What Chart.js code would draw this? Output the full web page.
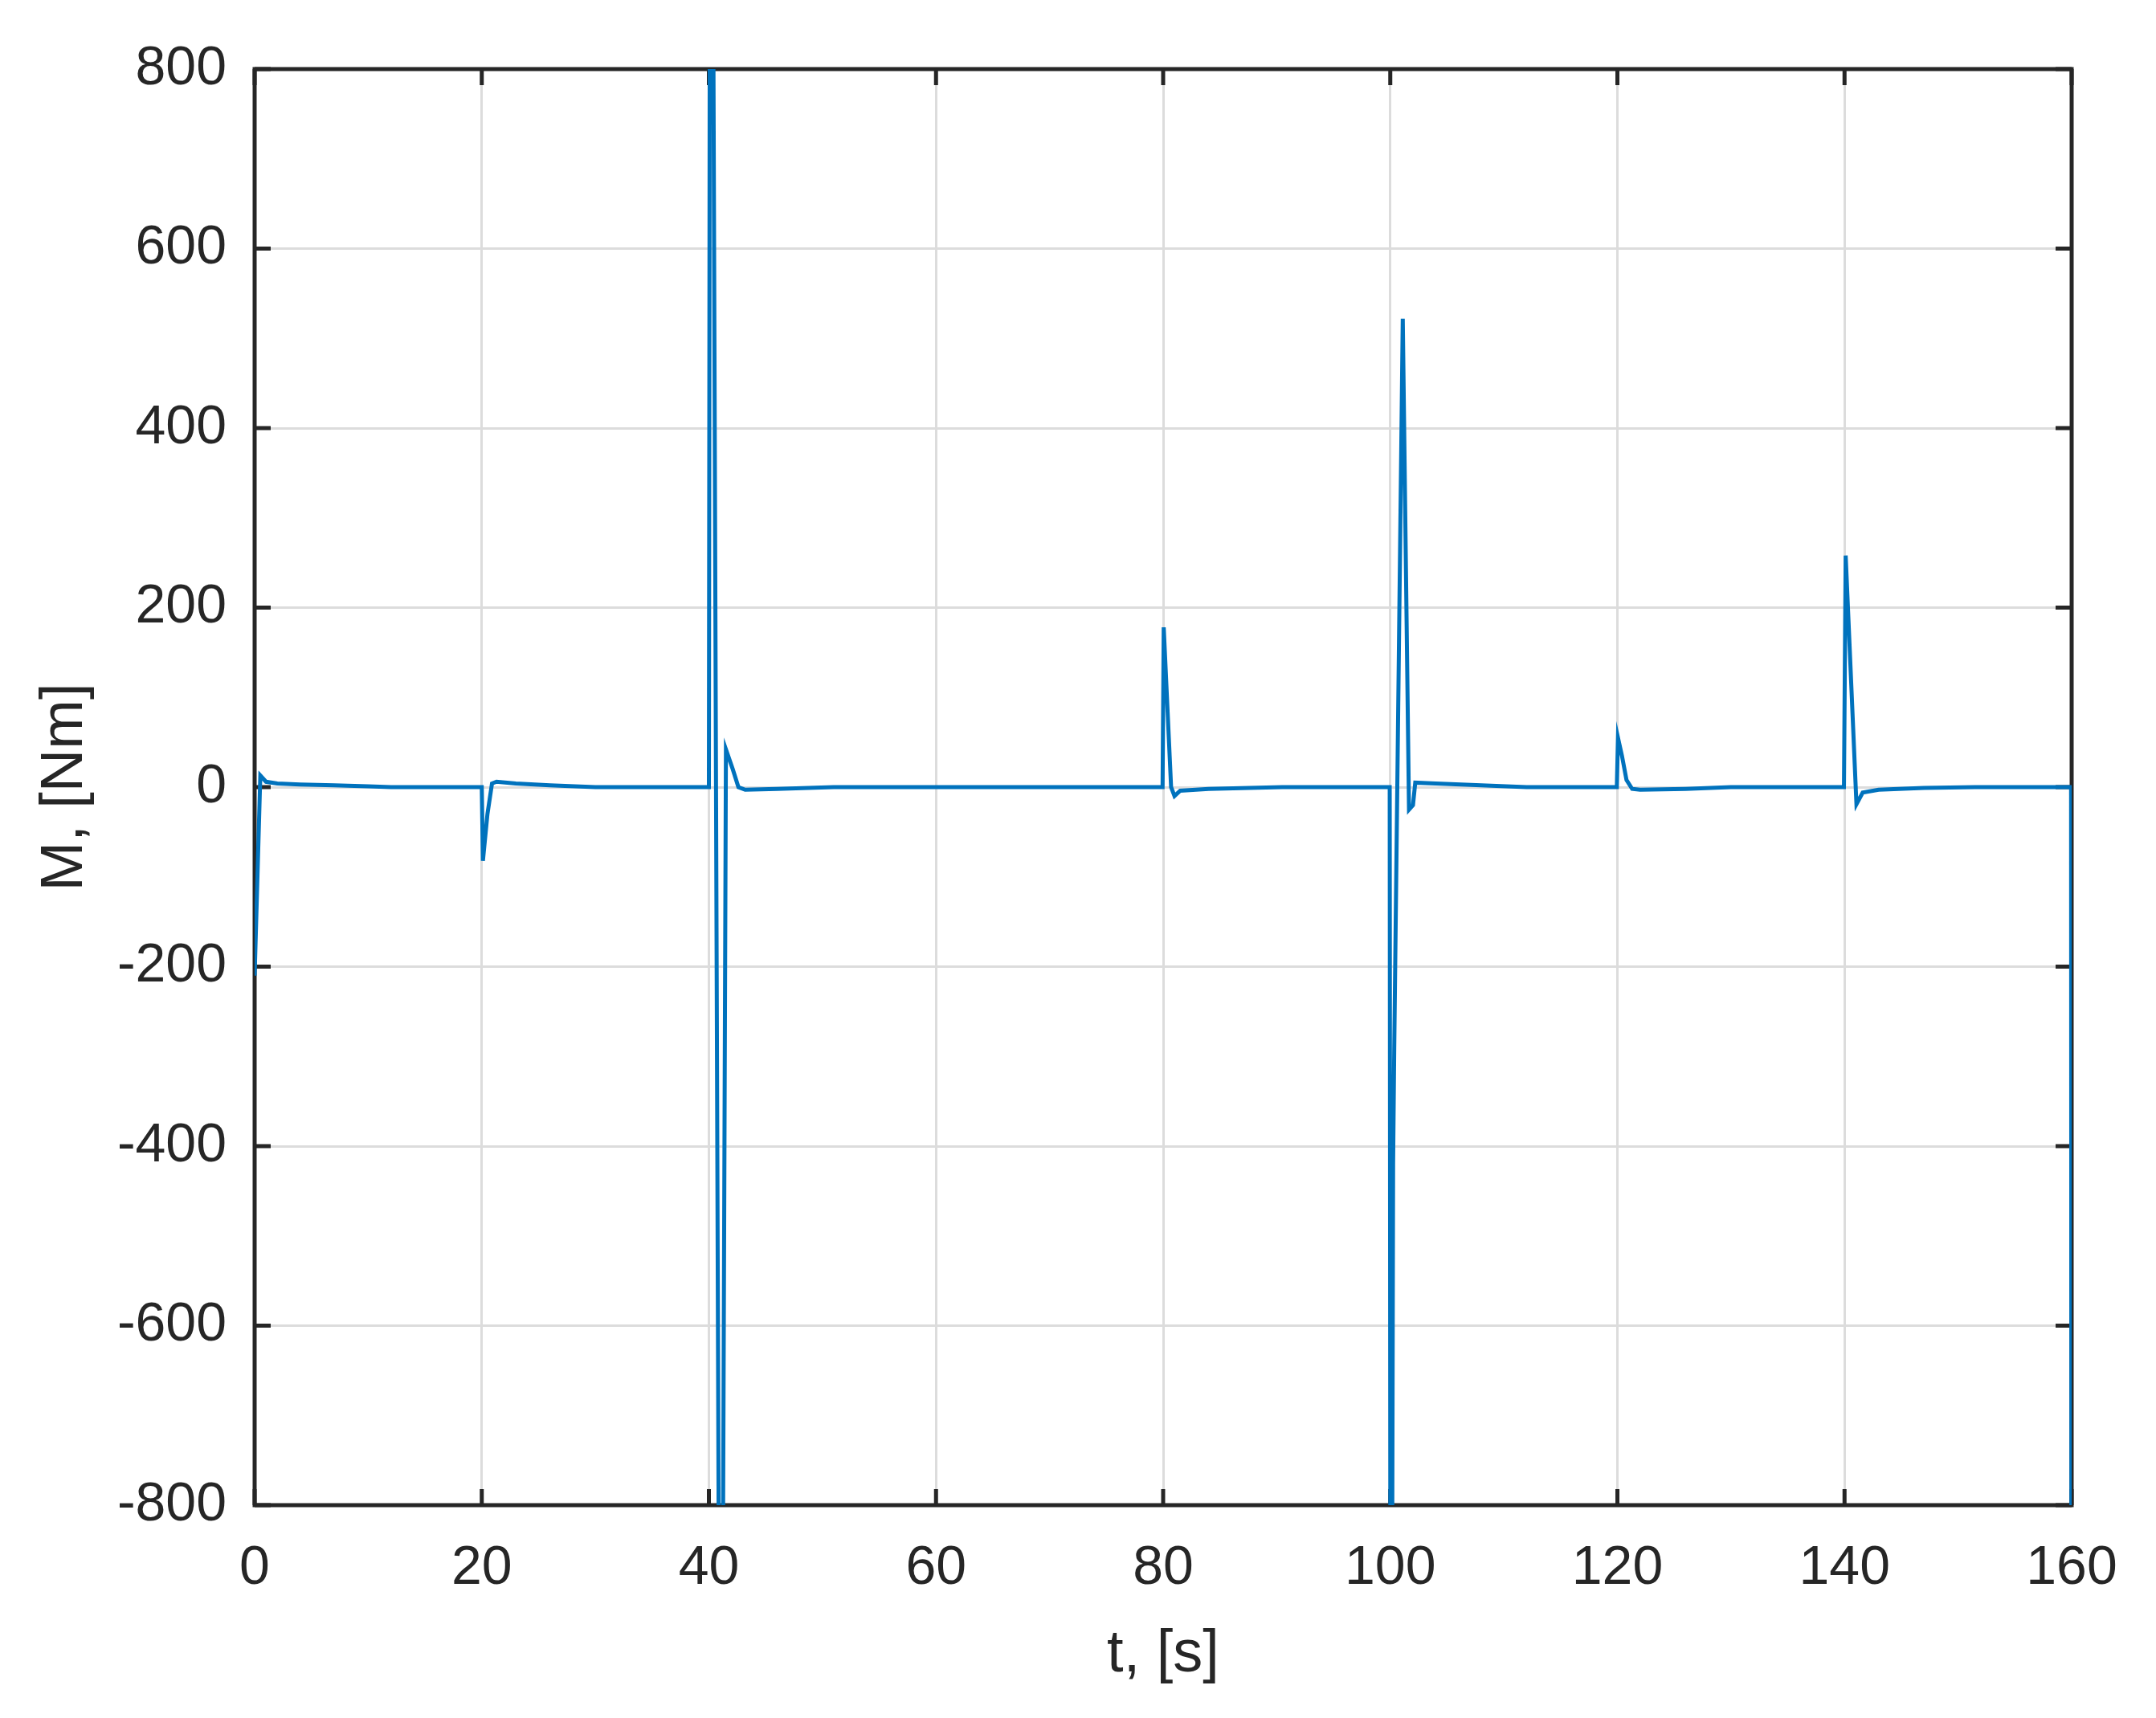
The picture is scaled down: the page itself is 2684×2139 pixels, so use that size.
<!DOCTYPE html>
<html>
<head>
<meta charset="utf-8">
<script src="https://cdn.jsdelivr.net/npm/chart.js@4.4.1/dist/chart.umd.min.js"></script>
<style>
  html, body { margin: 0; padding: 0; background: #fff; }
  canvas { display: block; }
</style>
</head>
<body>
<canvas id="torqueChart" width="2684" height="2139"></canvas>
<script>
// time, s
const tSec = [
    0, 0.5, 1.0, 2, 4, 7, 10, 12, 19.9,
    20.0, 20.1, 20.5, 20.9, 21.3, 23, 26, 30, 39.9,
    40.0, 40.15, 41.05, 41.5, 42.1, 42.6, 43.2, 46, 51, 79.95,
    80.05, 80.7, 81.0, 81.5, 84, 90.5, 99.95,
    100.05, 100.25, 100.35, 101.1, 101.65, 102.0, 102.2, 104, 108, 112, 119.95,
    120.05, 120.4, 120.8, 121.3, 122, 126, 130, 139.95,
    140.1, 141.05, 141.6, 143, 147, 151.5, 159.95,
    160.0
]
// torque M, Nm (spikes past +-800 are clipped by the axes)
const torque = [
    -210, 13, 6, 4, 3, 2, 1, 0, 0,
    0, -82, -30, 4, 6, 4, 2, 0, 0,
    0, 1700, -1500, 42, 20, 0, -3, -2, 0, 0,
    178, 0, -10, -4, -2, 0, 0,
    -1500, -420, -290, 522, -25, -20, 5, 4, 2, 0, 0,
    55, 35, 8, -2, -3, -2, 0, 0,
    258, -19, -6, -3, -1, 0, 0,
    -1500
]
const xTicks = [0, 20, 40, 60, 80, 100, 120, 140, 160]
const yTicks = [-800, -600, -400, -200, 0, 200, 400, 600, 800]
const xTitle = 't, [s]'
const yTitle = 'M, [Nm]'

const axisColor = '#262626'
const gridColor = '#dcdcdc'
const lineColor = '#0072bd'
const fontFamily = "'Liberation Sans', Arial, Helvetica, sans-serif"

// axes box with inward ticks on all four sides
const matlabBox = {
    id: 'matlabBox',
    beforeDatasetsDraw(chart) {
        const {ctx, chartArea: a, scales} = chart
        const len = 20
        ctx.save()
        ctx.strokeStyle = axisColor
        ctx.lineWidth = 5
        ctx.beginPath()
        xTicks.forEach(v => {
            const px = scales.x.getPixelForValue(v)
            ctx.moveTo(px, a.bottom); ctx.lineTo(px, a.bottom - len)
            ctx.moveTo(px, a.top); ctx.lineTo(px, a.top + len)
        })
        yTicks.forEach(v => {
            const py = scales.y.getPixelForValue(v)
            ctx.moveTo(a.left, py); ctx.lineTo(a.left + len, py)
            ctx.moveTo(a.right, py); ctx.lineTo(a.right - len, py)
        })
        ctx.stroke()
        ctx.strokeRect(a.left, a.top, a.right - a.left, a.bottom - a.top)
        ctx.restore()
    }
}

const points = tSec.map((t, i) => ({x: t, y: torque[i]}))

new Chart(document.getElementById('torqueChart'), {
    type: 'line',
    data: {
        datasets: [{
            data: points,
            borderColor: lineColor,
            borderWidth: 5,
            pointRadius: 0,
            tension: 0,
            fill: false
        }]
    },
    options: {
        responsive: false,
        animation: false,
        devicePixelRatio: 1,
        layout: {padding: {left: 20, top: 86, right: 105, bottom: 0}},
        plugins: {legend: {display: false}, tooltip: {enabled: false}},
        scales: {
            x: {
                type: 'linear',
                min: 0,
                max: 160,
                afterBuildTicks: s => { s.ticks = xTicks.map(v => ({value: v})) },
                afterFit: s => { s.height = 265 },
                grid: {color: gridColor, lineWidth: 3, drawTicks: false},
                border: {display: false},
                ticks: {
                    autoSkip: false,
                    maxRotation: 0,
                    padding: 38,
                    color: axisColor,
                    font: {family: fontFamily, size: 68}
                },
                title: {
                    display: true,
                    text: xTitle,
                    color: axisColor,
                    padding: {top: 0, bottom: 34},
                    font: {family: fontFamily, size: 74}
                }
            },
            y: {
                type: 'linear',
                min: -800,
                max: 800,
                afterBuildTicks: s => { s.ticks = yTicks.map(v => ({value: v})) },
                afterFit: s => { s.width = 297 },
                grid: {color: gridColor, lineWidth: 3, drawTicks: false},
                border: {display: false},
                ticks: {
                    autoSkip: false,
                    padding: 35,
                    color: axisColor,
                    font: {family: fontFamily, size: 68}
                },
                title: {
                    display: true,
                    text: yTitle,
                    color: axisColor,
                    padding: {top: 17, bottom: 0},
                    font: {family: fontFamily, size: 74}
                }
            }
        }
    },
    plugins: [matlabBox]
})
</script>
</body>
</html>
